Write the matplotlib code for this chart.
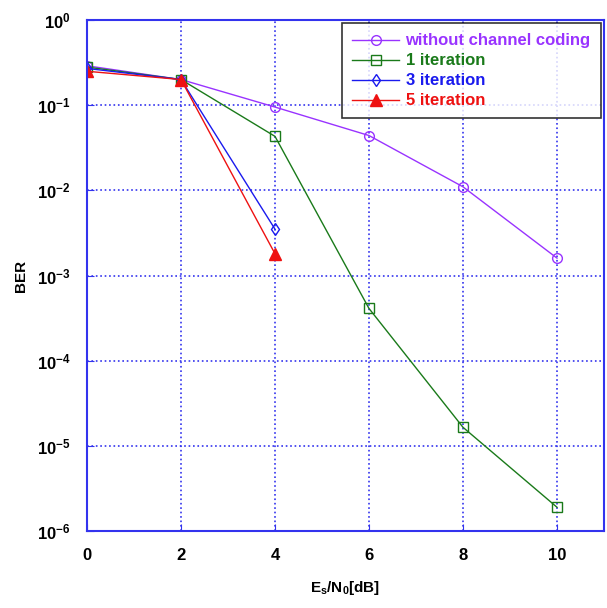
import matplotlib.pyplot as plt

plt.rcParams['font.family'] = ['Liberation Sans', 'DejaVu Sans']
plt.rcParams['font.weight'] = 'bold'
plt.rcParams['mathtext.default'] = 'regular'

snr = [0, 2, 4, 6, 8, 10]
snr_short = [0, 2, 4]
ber_uncoded = [0.29, 0.20, 0.095, 0.044, 0.011, 0.0016]
ber_iter1 = [0.28, 0.20, 0.043, 4.1e-4, 1.65e-5, 1.9e-6]
ber_iter3 = [0.27, 0.20, 3.5e-3]
ber_iter5 = [0.25, 0.20, 1.8e-3]
xticks = [0, 2, 4, 6, 8, 10]
yticks = [1e-6, 1e-5, 1e-4, 1e-3, 1e-2, 1e-1, 1]
ytick_labels = [r'10$^{-6}$', r'10$^{-5}$', r'10$^{-4}$', r'10$^{-3}$',
                r'10$^{-2}$', r'10$^{-1}$', r'10$^{0}$']

axis_blue = '#3333ee'

fig = plt.figure(figsize=(6.07, 6.08), dpi=100)
ax = fig.add_axes([87 / 607, 77 / 608, 517 / 607, 511 / 608])

ax.semilogy(snr, ber_uncoded, color='#9933ff', marker='o', mfc='none', ms=7, lw=1,
            label='without channel coding')
ax.semilogy(snr, ber_iter1, color='#1a7a1a', marker='s', mfc='none', ms=7, lw=1,
            label='1 iteration')
ax.semilogy(snr_short, ber_iter3, color='#1a1aee', marker='d', mfc='none', ms=6, lw=1,
            label='3 iteration')
ax.semilogy(snr_short, ber_iter5, color='#ee1111', marker='^', ms=8, lw=1,
            label='5 iteration')

ax.set_xlim(0, 11)
ax.set_ylim(1e-6, 1)
ax.set_xticks(xticks)
ax.set_yticks(yticks, ytick_labels)
ax.minorticks_off()
ax.grid(True, which='major', color=axis_blue, linestyle=':', linewidth=1.2)

for s in ax.spines.values():
    s.set_color(axis_blue)
    s.set_linewidth(1.5)
ax.tick_params(colors=axis_blue, labelcolor='black', labelsize=12, direction='in', length=5)
ax.tick_params(axis='x', pad=12)
ax.tick_params(axis='y', pad=12)

ax.set_xlabel(r'E$_s$/N$_0$[dB]', fontsize=11, fontweight='bold', labelpad=12)
ax.set_ylabel('BER', fontsize=11, fontweight='bold')
ax.yaxis.set_label_coords(-0.115, 0.5)

leg = ax.legend(loc='upper right', frameon=True, fancybox=False,
                edgecolor='black', borderaxespad=0.2, handlelength=2.8,
                labelspacing=0.3, borderpad=0.6, handletextpad=0.4,
                prop={'weight': 'bold', 'size': 12})
leg.get_frame().set_linewidth(1.2)
for text, line in zip(leg.get_texts(), leg.get_lines()):
    text.set_color(line.get_color())

plt.savefig('out.png', dpi=100)
